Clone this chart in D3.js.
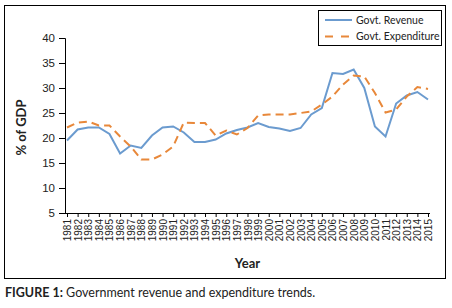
<!DOCTYPE html>
<html lang="en">
<head>
<meta charset="UTF-8">
<script src="https://d3js.org/d3.v7.min.js"></script>
<style>
  body { margin: 0; background: #fff; }
  svg { font-family: Lato, "Open Sans", sans-serif; }
  .line { fill: none; stroke-width: 2; }
</style>
</head>
<body>
<script>
  var years = [];
  for (var y = 1981; y <= 2015; y++) years.push(String(y));

  var revenue = [19.5, 21.7, 22.1, 22.1, 20.8, 16.9, 18.5, 18.0, 20.5, 22.1,
                 22.3, 21.1, 19.2, 19.2, 19.7, 20.9, 21.6, 22.1, 23.0, 22.2,
                 21.9, 21.4, 22.0, 24.7, 26.0, 33.0, 32.8, 33.7, 30.0, 22.3,
                 20.3, 26.9, 28.5, 29.2, 27.7];
  var expenditure = [22.1, 23.1, 23.3, 22.5, 22.5, 20.3, 18.3, 15.7, 15.7, 16.7,
                     18.3, 23.1, 23.0, 23.0, 20.5, 21.5, 20.7, 22.0, 24.5, 24.7,
                     24.7, 24.7, 25.0, 25.3, 26.7, 28.3, 30.7, 32.5, 32.3, 29.0,
                     25.1, 25.7, 28.3, 30.2, 29.8];
  var yTicks = [5, 10, 15, 20, 25, 30, 35, 40];
  var seriesNames = ["Govt. Revenue", "Govt. Expenditure"];
  var colors = ["#6b9bcf", "#e8883a"];

  var width = 452, height = 308;
  var mLeft = 65, mRight = 430, mTop = 38, mBottom = 213;

  var svg = d3.select("body").append("svg").attr("width", width).attr("height", height);

  // outer frame
  svg.append("rect").attr("x", 4.5).attr("y", 5.5).attr("width", 441).attr("height", 273)
     .attr("fill", "none").attr("stroke", "#000").attr("stroke-width", 1);

  var xscale = d3.scalePoint().domain(years).range([mLeft + 2, mRight - 2]);
  var yscale = d3.scaleLinear().domain([5, 40]).range([mBottom, mTop]);

  var yaxis = d3.axisLeft(yscale).tickValues(yTicks).tickSize(6).tickPadding(4);
  var gy = svg.append("g").attr("transform", "translate(" + mLeft + ",0)").call(yaxis);
  gy.selectAll("text").style("font-size", "11.5px").attr("fill", "#222");

  var xaxis = d3.axisBottom(xscale).tickSize(4).tickPadding(3).tickSizeOuter(0);
  var gx = svg.append("g").attr("transform", "translate(0," + mBottom + ")").call(xaxis);
  gx.select(".domain").attr("d", "M" + mLeft + ",0.5H" + mRight);
  gx.selectAll("text")
    .style("font-size", "10px").attr("fill", "#222")
    .attr("transform", "rotate(-90)")
    .attr("text-anchor", "end")
    .attr("x", -6).attr("y", 0).attr("dy", "0.35em");

  var line = d3.line().x(function (d, i) { return xscale(years[i]); })
                      .y(function (d) { return yscale(d); });

  svg.append("path").attr("class", "line").attr("d", line(revenue)).attr("stroke", colors[0]);
  svg.append("path").attr("class", "line").attr("d", line(expenditure)).attr("stroke", colors[1])
     .attr("stroke-dasharray", "8,5");

  // axis titles
  svg.append("text").attr("x", (mLeft + mRight) / 2).attr("y", 268).attr("text-anchor", "middle")
     .style("font-size", "13px").style("font-weight", "bold").attr("fill", "#222").text("Year");
  svg.append("text").attr("transform", "translate(26," + ((mTop + mBottom) / 2 + 2) + ") rotate(-90)")
     .attr("text-anchor", "middle").style("font-size", "13px").style("font-weight", "bold")
     .attr("fill", "#222").text("% of GDP");

  // legend
  var lg = svg.append("g");
  lg.append("rect").attr("x", 318.5).attr("y", 10.5).attr("width", 123).attr("height", 35)
    .attr("fill", "#fff").attr("stroke", "#000");
  seriesNames.forEach(function (name, i) {
    var ly = 20 + i * 16.5;
    lg.append("line").attr("x1", 325).attr("x2", 352).attr("y1", ly).attr("y2", ly)
      .attr("stroke", colors[i]).attr("stroke-width", 2)
      .attr("stroke-dasharray", i === 1 ? "8,8" : null);
    lg.append("text").attr("x", 356).attr("y", ly).attr("dy", "0.35em")
      .style("font-size", "10.5px").attr("fill", "#222").text(name);
  });

  // caption
  var cap = svg.append("text").attr("x", 5).attr("y", 297).style("font-size", "12.5px").attr("fill", "#222");
  cap.append("tspan").style("font-weight", "bold").text("FIGURE 1:");
  cap.append("tspan").text(" Government revenue and expenditure trends.");
</script>
</body>
</html>
